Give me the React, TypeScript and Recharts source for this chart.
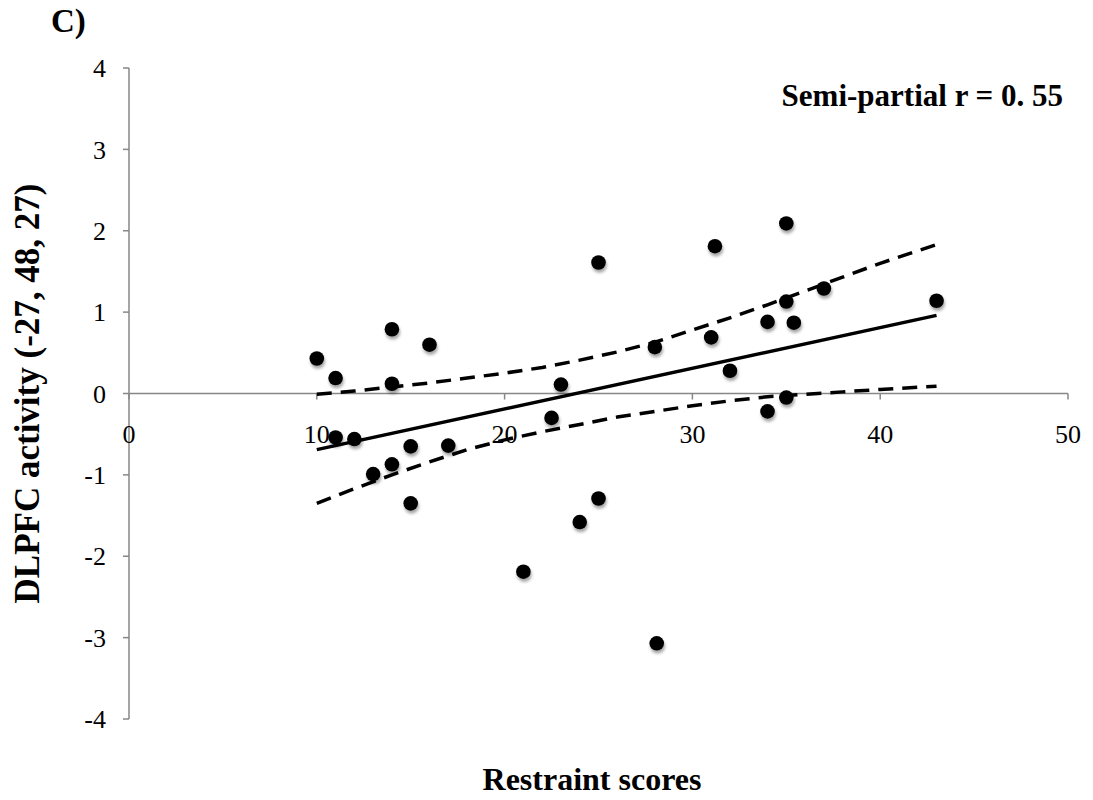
import React from 'react';
import { ScatterChart, Scatter, XAxis, YAxis, ReferenceLine } from 'recharts';

const xTickValues = [0, 10, 20, 30, 40, 50];
const yTickValues = [-4, -3, -2, -1, 0, 1, 2, 3, 4];

const points = [
  { x: 10.0, y: 0.43 },
  { x: 11.0, y: 0.19 },
  { x: 11.0, y: -0.54 },
  { x: 12.0, y: -0.56 },
  { x: 13.0, y: -0.99 },
  { x: 14.0, y: 0.79 },
  { x: 14.0, y: 0.12 },
  { x: 14.0, y: -0.87 },
  { x: 15.0, y: -0.65 },
  { x: 15.0, y: -1.35 },
  { x: 16.0, y: 0.6 },
  { x: 17.0, y: -0.64 },
  { x: 21.0, y: -2.19 },
  { x: 22.5, y: -0.3 },
  { x: 23.0, y: 0.11 },
  { x: 24.0, y: -1.58 },
  { x: 25.0, y: 1.61 },
  { x: 25.0, y: -1.29 },
  { x: 28.0, y: 0.57 },
  { x: 28.1, y: -3.07 },
  { x: 31.0, y: 0.69 },
  { x: 31.2, y: 1.81 },
  { x: 32.0, y: 0.28 },
  { x: 34.0, y: 0.88 },
  { x: 34.0, y: -0.22 },
  { x: 35.0, y: 2.09 },
  { x: 35.0, y: 1.13 },
  { x: 35.0, y: -0.05 },
  { x: 35.4, y: 0.87 },
  { x: 37.0, y: 1.29 },
  { x: 43.0, y: 1.14 },
];

const regression = [
  { x: 10, y: -0.69 },
  { x: 43, y: 0.96 },
];

const upperBand = [
  { x: 10, y: -0.01 },
  { x: 12, y: 0.03 },
  { x: 14, y: 0.08 },
  { x: 16, y: 0.13 },
  { x: 18, y: 0.19 },
  { x: 20, y: 0.25 },
  { x: 22, y: 0.32 },
  { x: 24, y: 0.41 },
  { x: 26, y: 0.51 },
  { x: 28, y: 0.63 },
  { x: 30, y: 0.78 },
  { x: 32, y: 0.93 },
  { x: 34, y: 1.09 },
  { x: 36, y: 1.26 },
  { x: 38, y: 1.43 },
  { x: 40, y: 1.6 },
  { x: 43, y: 1.83 },
];

const lowerBand = [
  { x: 10, y: -1.35 },
  { x: 12, y: -1.17 },
  { x: 14, y: -1.0 },
  { x: 16, y: -0.84 },
  { x: 18, y: -0.69 },
  { x: 20, y: -0.57 },
  { x: 22, y: -0.47 },
  { x: 24, y: -0.38 },
  { x: 26, y: -0.29 },
  { x: 28, y: -0.22 },
  { x: 30, y: -0.15 },
  { x: 32, y: -0.09 },
  { x: 34, y: -0.04 },
  { x: 36, y: -0.01 },
  { x: 38, y: 0.02 },
  { x: 40, y: 0.05 },
  { x: 43, y: 0.09 },
];

const xTickData = xTickValues.map((v) => ({ x: v, y: 0 }));

const FONT = '"Liberation Serif", "Times New Roman", Times, serif';
const AXIS_GRAY = '#878787';

const W = 1077;
const H = 784;

const XTickShape = (props: any) => {
  const { cx, cy, payload } = props;
  return (
    <g>
      <line x1={cx} y1={cy} x2={cx} y2={cy + 6} stroke={AXIS_GRAY} strokeWidth={1.5} />
      <text x={cx} y={cy + 49} textAnchor="middle" fontSize={26} fontFamily={FONT} fill="#000">
        {payload.x}
      </text>
    </g>
  );
};

const DotShape = (props: any) => {
  const { cx, cy } = props;
  return <circle cx={cx} cy={cy} r={7.3} fill="#000" filter="url(#dotShadow)" />;
};

const NoShape = () => <g />;

export default function App() {
  return (
    <div style={{ position: 'relative', width: W, height: H }}>
      <ScatterChart width={W} height={H} margin={{ top: 60, right: 17, bottom: 73, left: 0 }}>
        <defs>
          <filter id="dotShadow" x="-50%" y="-50%" width="200%" height="220%">
            <feDropShadow dx="1" dy="3" stdDeviation="1.8" floodColor="#000" floodOpacity="0.35" />
          </filter>
        </defs>
        <XAxis type="number" dataKey="x" domain={[0, 50]} hide />
        <YAxis
          type="number"
          dataKey="y"
          domain={[-4, 4]}
          ticks={yTickValues}
          width={121}
          axisLine={{ stroke: AXIS_GRAY, strokeWidth: 1.5 }}
          tickLine={{ stroke: AXIS_GRAY, strokeWidth: 1.5 }}
          tickSize={6}
          tickMargin={17}
          tick={{ fontSize: 26, fontFamily: FONT, fill: '#000' }}
        />
        <ReferenceLine y={0} stroke={AXIS_GRAY} strokeWidth={1.5} />
        <Scatter data={xTickData} shape={XTickShape} isAnimationActive={false} />
        <Scatter
          data={upperBand}
          line={{ stroke: '#000', strokeWidth: 3.5, strokeDasharray: '15 9' }}
          lineType="joint"
          shape={NoShape}
          isAnimationActive={false}
        />
        <Scatter
          data={lowerBand}
          line={{ stroke: '#000', strokeWidth: 3.5, strokeDasharray: '15 9' }}
          lineType="joint"
          shape={NoShape}
          isAnimationActive={false}
        />
        <Scatter
          data={regression}
          line={{ stroke: '#000', strokeWidth: 3.5 }}
          lineType="joint"
          shape={NoShape}
          isAnimationActive={false}
        />
        <Scatter data={points} shape={DotShape} isAnimationActive={false} />
      </ScatterChart>
      <svg
        width={W}
        height={H}
        style={{ position: 'absolute', left: 0, top: 0, pointerEvents: 'none', overflow: 'visible' }}
      >
        <text x={43} y={24} fontSize={33} fontWeight="bold" fontFamily={FONT} fill="#000">
          C)
        </text>
        <text x={1055} y={98} textAnchor="end" fontSize={31} fontWeight="bold" fontFamily={FONT} fill="#000">
          Semi-partial r = 0. 55
        </text>
        <text
          x={31}
          y={385.5}
          transform="rotate(-90 31 385.5)"
          textAnchor="middle"
          fontSize={35}
          fontWeight="bold"
          fontFamily={FONT}
          fill="#000"
        >
          DLPFC activity (-27, 48, 27)
        </text>
        <text x={584} y={782} textAnchor="middle" fontSize={32} fontWeight="bold" fontFamily={FONT} fill="#000">
          Restraint scores
        </text>
      </svg>
    </div>
  );
}
